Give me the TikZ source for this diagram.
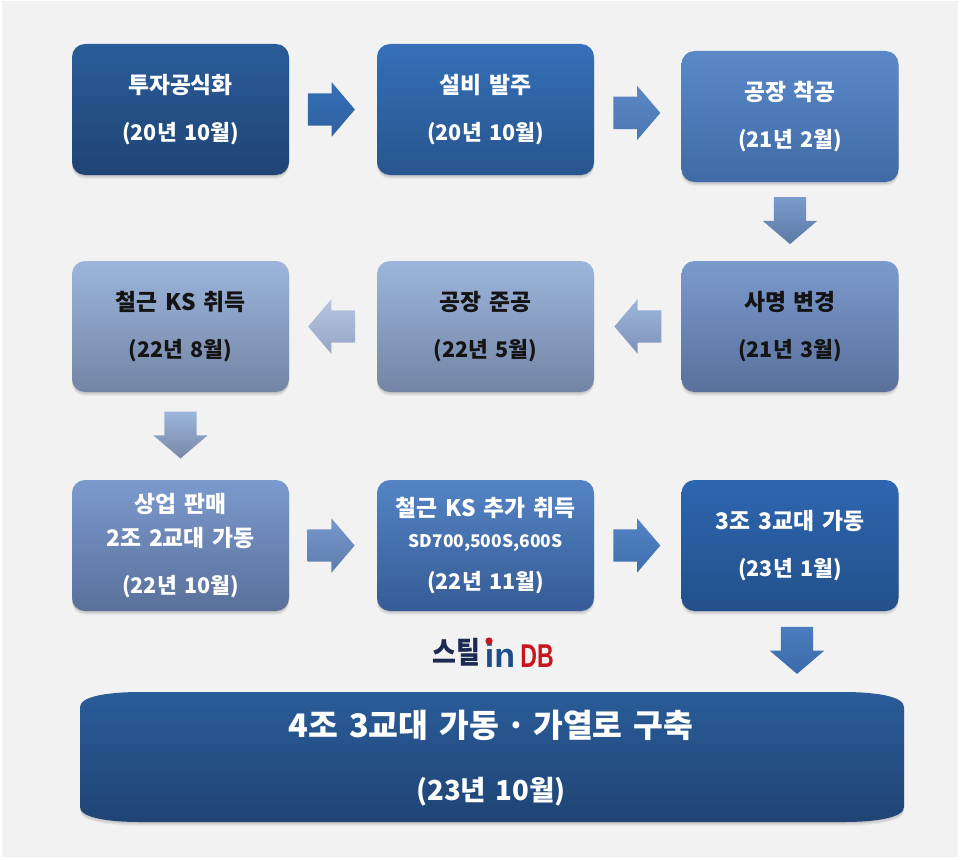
\documentclass[tikz,border=0pt]{standalone}
\usepackage{fontspec}
\setmainfont{Noto Sans CJK KR}[WordSpace=1.5]
\newfontfamily\logolatin{Liberation Sans}
\usetikzlibrary{shapes.arrows,calc}
\newcommand{\dateline}[1]{{\fontsize{21.5}{30}\selectfont #1}}
\newcommand{\titleline}[1]{\raisebox{-1.5pt}{#1}}
\definecolor{pagebg}{HTML}{F2F2F2}
\definecolor{ink}{HTML}{141414}
\definecolor{deept}{HTML}{2A5C99}\definecolor{deepb}{HTML}{1F4474}
\definecolor{brightt}{HTML}{3570B8}\definecolor{brightb}{HTML}{28558E}
\definecolor{midt}{HTML}{5B89C8}\definecolor{midb}{HTML}{3F6AA5}
\definecolor{softt}{HTML}{7B9ACD}\definecolor{softb}{HTML}{5A709B}
\definecolor{palet}{HTML}{9DB5DC}\definecolor{paleb}{HTML}{7385A5}
\definecolor{secondt}{HTML}{5483C4}\definecolor{secondb}{HTML}{355C96}
\definecolor{thirdt}{HTML}{2E66B0}\definecolor{thirdb}{HTML}{22508A}
\definecolor{arrAt}{HTML}{3570B8}\definecolor{arrAb}{HTML}{2F619F}
\definecolor{arrBt}{HTML}{5B87C4}\definecolor{arrBb}{HTML}{4A78B2}
\definecolor{arrCt}{HTML}{7B9ACD}\definecolor{arrCb}{HTML}{5C7AA5}
\definecolor{arrDt}{HTML}{9DB5DC}\definecolor{arrDb}{HTML}{7F93B8}
\definecolor{arrEt}{HTML}{B6C5E0}\definecolor{arrEb}{HTML}{95A5C5}
\definecolor{arrFt}{HTML}{9DB5DC}\definecolor{arrFb}{HTML}{7888A8}
\definecolor{arrGt}{HTML}{7898CC}\definecolor{arrGb}{HTML}{5D7CAE}
\definecolor{arrHt}{HTML}{5483C4}\definecolor{arrHb}{HTML}{3F6FAD}
\definecolor{arrIt}{HTML}{4A7DBE}\definecolor{arrIb}{HTML}{3A6AA8}
\definecolor{logonavy}{HTML}{1B2A52}\definecolor{logoblue}{HTML}{1F4C8C}\definecolor{logored}{HTML}{C8161E}
\tikzset{
  softshadow/.style={
    preaction={fill=black,fill opacity=.05,transform canvas={yshift=-1pt}},
    preaction={fill=black,fill opacity=.05,transform canvas={yshift=-2pt}},
    preaction={fill=black,fill opacity=.05,transform canvas={yshift=-3pt}},
    preaction={fill=black,fill opacity=.04,transform canvas={yshift=-4pt}}},
  flowbox/.style 2 args={softshadow,top color=#1,bottom color=#2,
    rounded corners=13pt,minimum width=217pt,minimum height=131pt,inner sep=0pt,outer sep=0pt,
    align=center,text=white,font=\fontsize{22.8}{48}\selectfont\bfseries},
  darktext/.style={text=ink},
  blockarrow/.style 2 args={single arrow,top color=#1,bottom color=#2,draw=none,
    minimum height=47pt,minimum width=54pt,single arrow head extend=11pt,
    single arrow tip angle=99,inner sep=16pt,outer sep=0pt},
  rarrow/.style={shape border rotate=0,xshift=-7pt},
  larrow/.style={shape border rotate=180,xshift=7pt},
  darrow/.style={shape border rotate=270,yshift=7pt},
}
\begin{document}
\begin{tikzpicture}[x=1pt,y=-1pt]
\useasboundingbox (0,0) rectangle (960,859);
\fill[white] (0,0) rectangle (960,859);
\fill[pagebg] (2,1) rectangle (958,857);

% row 1
\node[flowbox={deept}{deepb}] (b1) at (180.5,109.5) {\titleline{투자공식화}\\\dateline{(20년 10월)}};
\node[flowbox={brightt}{brightb}] (b2) at (485.5,109.5) {\titleline{설비 발주}\\\dateline{(20년 10월)}};
\node[flowbox={midt}{midb}] (b3) at (790,116.5) {\titleline{공장 착공}\\\dateline{(21년 2월)}};
% row 2
\node[flowbox={softt}{softb},darktext] (b4) at (790,326.5) {\titleline{사명 변경}\\\dateline{(21년 3월)}};
\node[flowbox={palet}{paleb},darktext] (b5) at (485.5,326.5) {\titleline{공장 준공}\\\dateline{(22년 5월)}};
\node[flowbox={palet}{paleb},darktext] (b6) at (180.5,326.5) {\titleline{철근 KS 취득}\\\dateline{(22년 8월)}};
% row 3
\node[flowbox={softt}{softb},font=\fontsize{22.8}{34}\selectfont\bfseries] (b7) at (180.5,545.5)
  {\titleline{상업 판매}\\\titleline{2조 2교대 가동}\\[15pt]\dateline{(22년 10월)}};
\node[flowbox={secondt}{secondb},font=\fontsize{22.8}{32}\selectfont\bfseries] (b8) at (485.5,545.5)
  {\titleline{철근 KS 추가 취득}\\{\fontsize{17.4}{20}\selectfont SD700,500S,600S}\\[10pt]\dateline{(22년 11월)}};
\node[flowbox={thirdt}{thirdb}] (b9) at (790,545.5) {\titleline{3조 3교대 가동}\\\dateline{(23년 1월)}};

% final box
\path[softshadow,top color=deept,bottom color=deepb]
  (80,707) .. controls (80,696) and (110,692) .. (140,692) -- (844,692)
  .. controls (874,692) and (904,696) .. (904,707) -- (904,807)
  .. controls (904,818) and (874,822) .. (844,822) -- (140,822)
  .. controls (110,822) and (80,818) .. (80,807) -- cycle;
\node[align=center,text=white,inner sep=0pt,font=\fontsize{32.4}{63}\selectfont\bfseries] (b10) at (491,758)
  {4조 3교대 가동\kern-4pt{} · \kern-4pt{}가열로 구축\\{\fontsize{27.6}{30}\selectfont (23년 10월)}};

% block arrows
\node[blockarrow={arrAt}{arrAb},rarrow] (a1) at ($(b1.east)+(42.5,0)$) {};
\node[blockarrow={arrBt}{arrBb},rarrow] (a2) at ($(b2.east)!.49!(b3.west)$) {};
\node[blockarrow={arrCt}{arrCb},darrow] (a3) at ($(b3.south)!.49!(b4.north)$) {};
\node[blockarrow={arrDt}{arrDb},larrow] (a4) at ($(b4.west)!.5!(b5.east)$) {};
\node[blockarrow={arrEt}{arrEb},larrow] (a5) at ($(b5.west)!.517!(b6.east)$) {};
\node[blockarrow={arrFt}{arrFb},darrow] (a6) at ($(b6.south)!.49!(b7.north)$) {};
\node[blockarrow={arrGt}{arrGb},rarrow] (a7) at ($(b7.east)!.48!(b8.west)$) {};
\node[blockarrow={arrHt}{arrHb},rarrow] (a8) at ($(b8.east)!.49!(b9.west)$) {};
\node[blockarrow={arrIt}{arrIb},darrow] (a9) at (797,650.5) {};

% logo
\node[inner sep=0pt,text=logonavy,font=\fontsize{26}{30}\selectfont\bfseries,yscale=1.15] (logoA) at (456,652.5) {스틸};
\node[inner sep=0pt,anchor=base,text=logoblue,font=\logolatin\fontsize{34}{36}\selectfont\bfseries] (logoB) at (500,667) {in};
\node[inner sep=0pt,anchor=base,text=logored,font=\logolatin\fontsize{33}{36}\selectfont\bfseries,xscale=.7] (logoC) at (537,667) {DB};
\fill[logored] (489,641) circle (3.6pt);
\end{tikzpicture}
\end{document}
